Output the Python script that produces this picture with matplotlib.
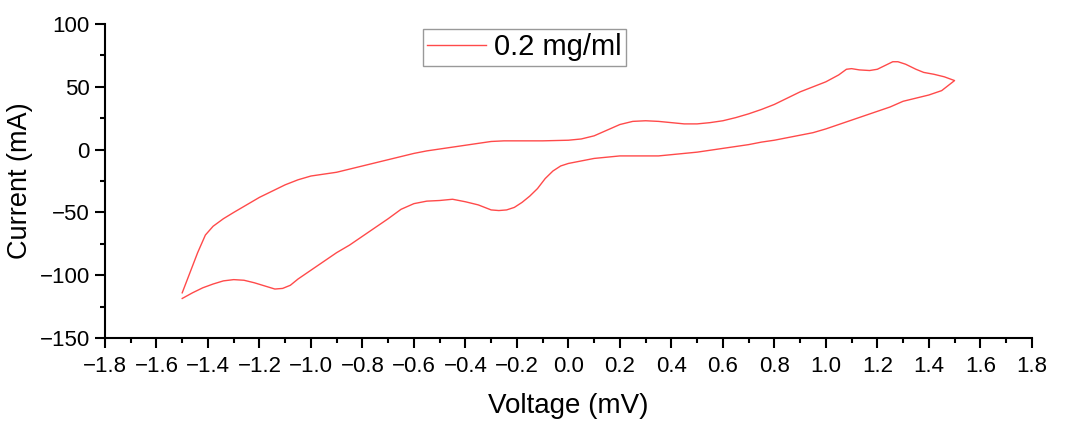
import numpy as np
import matplotlib
matplotlib.use("Agg")
from matplotlib import pyplot as plt
from matplotlib.ticker import MultipleLocator

plt.rcParams['font.family'] = ['Liberation Sans', 'DejaVu Sans']
plt.rcParams['xtick.labelsize'] = 16
plt.rcParams['ytick.labelsize'] = 16

# forward scan -1.5 -> 1.5
v_fwd = [-1.50, -1.47, -1.44, -1.41, -1.38, -1.34, -1.30, -1.25, -1.20, -1.15,
         -1.10, -1.05, -1.00, -0.95, -0.90, -0.85, -0.80, -0.75, -0.70, -0.65,
         -0.60, -0.55, -0.50, -0.45, -0.40, -0.35, -0.30, -0.25, -0.20, -0.10,
         0.00, 0.05, 0.10, 0.15, 0.20, 0.25, 0.30, 0.35, 0.40, 0.45,
         0.50, 0.55, 0.60, 0.65, 0.70, 0.75, 0.80, 0.85, 0.90, 0.95,
         1.00, 1.05, 1.08, 1.10, 1.13, 1.17, 1.20, 1.23, 1.26, 1.28,
         1.31, 1.35, 1.38, 1.42, 1.46, 1.50]
i_fwd = [-114, -98, -82, -68, -61, -55, -50, -44, -38, -33,
         -28, -24, -21, -19.5, -18, -15.5, -13, -10.5, -8, -5.5,
         -3, -1, 0.5, 2, 3.5, 5, 6.5, 7, 7, 7,
         7.5, 8.5, 11, 15.5, 20, 22.5, 23, 22.5, 21.5, 20.5,
         20.5, 21.5, 23, 25.5, 28.5, 32, 36, 41, 46, 50,
         54, 59.5, 64, 64.5, 63.5, 63, 64, 67, 70, 70,
         68, 64, 61.5, 60, 58, 55]

# reverse scan 1.5 -> -1.5
v_rev = [1.45, 1.40, 1.35, 1.30, 1.25, 1.20, 1.15, 1.10, 1.05, 1.00,
         0.95, 0.90, 0.85, 0.80, 0.75, 0.70, 0.65, 0.60, 0.55, 0.50,
         0.45, 0.40, 0.35, 0.30, 0.25, 0.20, 0.15, 0.10, 0.05, 0.00,
         -0.03, -0.06, -0.09, -0.12, -0.15, -0.18, -0.21, -0.24, -0.27, -0.30,
         -0.35, -0.40, -0.45, -0.50, -0.55, -0.60, -0.65, -0.70, -0.75, -0.80,
         -0.85, -0.90, -0.95, -1.00, -1.05, -1.08, -1.11, -1.14, -1.18, -1.22,
         -1.26, -1.30, -1.34, -1.38, -1.42, -1.46, -1.50]
i_rev = [47, 43.5, 41, 38.5, 34, 30.5, 27, 23.5, 20, 16.5,
         13.5, 11.5, 9.5, 7.5, 6, 4, 2.5, 1, -0.5, -2,
         -3, -4, -5, -5, -5, -5, -6, -7, -9, -11,
         -13, -17, -23, -31, -37, -42, -46, -48, -48.5, -48,
         -44, -41.5, -39.5, -40.5, -41, -43, -47.5, -55, -62, -69,
         -76, -82, -89, -96, -103, -108, -110.5, -111, -108.5, -106,
         -104, -103.5, -104.5, -107, -110, -114, -118.5]

voltage = np.array(v_fwd + v_rev)
current = np.array(i_fwd + i_rev)

fig = plt.figure(figsize=(10.69, 4.22), dpi=100)
ax = fig.add_axes([0.0982, 0.199, 0.867, 0.744])
ax.plot(voltage, current, color='#ff4a4a', lw=1.0, label='0.2 mg/ml')

ax.set_xlim(-1.8, 1.8)
ax.set_ylim(-150, 100)
ax.xaxis.set_major_locator(MultipleLocator(0.2))
ax.xaxis.set_minor_locator(MultipleLocator(0.1))
ax.yaxis.set_major_locator(MultipleLocator(50))
ax.yaxis.set_minor_locator(MultipleLocator(25))

for s in ['top', 'right']:
    ax.spines[s].set_visible(False)
for s in ['left', 'bottom']:
    ax.spines[s].set_linewidth(1.5)
ax.tick_params(which='major', direction='out', length=7, width=1.5, pad=4)
ax.tick_params(axis='x', which='major', pad=6)
ax.tick_params(which='minor', direction='out', length=3.5, width=1.5)

ax.set_xlabel('Voltage (mV)', fontsize=20)
ax.set_ylabel('Current (mA)', fontsize=19.5)
ax.xaxis.set_label_coords(0.5, -0.175)
ax.yaxis.set_label_coords(-0.078, 0.5)

leg = ax.legend(loc='upper left', bbox_to_anchor=(0.343, 0.984), borderaxespad=0,
                fontsize=21, fancybox=False, handlelength=2.0, handletextpad=0.3,
                borderpad=0.15)
leg.get_frame().set_edgecolor('#808080')
leg.get_frame().set_linewidth(1.0)

fig.savefig('out.png', dpi=100)
